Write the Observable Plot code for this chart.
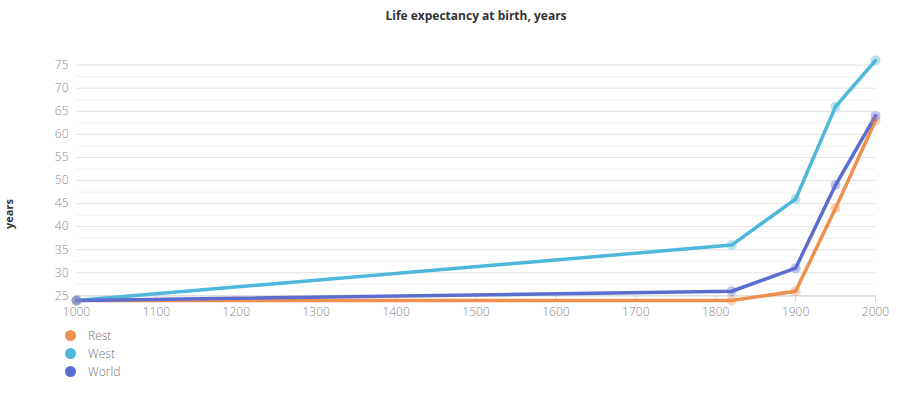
<!DOCTYPE html>
<html>
<head>
<meta charset="utf-8">
<script src="https://cdn.jsdelivr.net/npm/d3@7"></script>
<script src="https://cdn.jsdelivr.net/npm/@observablehq/plot@0.6"></script>
<style>
  body { margin: 0; background: #fff; font-family: "Open Sans", sans-serif; }
  #wrap { position: relative; width: 905px; height: 398px; }
  #title { position: absolute; top: 7px; left: 76px; width: 800px; text-align: center; font-size: 12px; font-weight: bold; color: #333; }
  #chart { position: absolute; top: 30px; left: 0; }
  #ylab { position: absolute; top: 214px; left: 8px; transform: translate(-50%, -50%) rotate(-90deg); transform-origin: center; font-size: 11px; font-weight: bold; color: #333; }
  #legend { position: absolute; left: 65px; top: 326px; font-size: 12px; font-weight: 300; color: #777; }
  .li { display: flex; align-items: center; height: 18px; }
  .dot { width: 11px; height: 11px; border-radius: 50%; margin-right: 12px; }
  #chart svg g[aria-label="y-axis tick label"], #chart svg g[aria-label="x-axis tick label"] { font-weight: 300; }
</style>
</head>
<body>
<div id="wrap">
  <div id="title">Life expectancy at birth, years</div>
  <div id="ylab">years</div>
  <div id="chart"></div>
  <div id="legend"></div>
</div>
<script>
const years = [1000, 1820, 1900, 1950, 2000];
const rest  = [24, 24, 26, 44, 63];
const west  = [24, 36, 46, 66, 76];
const world = [24, 26, 31, 49, 64];
const seriesNames = ["Rest", "West", "World"];
const seriesColors = ["#ee904f", "#4fb8da", "#5c6ccf"];
const yTicks = [25, 30, 35, 40, 45, 50, 55, 60, 65, 70, 75];
const yMinor = [27.5, 32.5, 37.5, 42.5, 47.5, 52.5, 57.5, 62.5, 67.5, 72.5];
const xTicks = [1000, 1100, 1200, 1300, 1400, 1500, 1600, 1700, 1800, 1900, 2000];

const seriesValues = [rest, west, world];
const data = [];
seriesNames.forEach((name, i) => {
  years.forEach((yr, j) => data.push({series: name, year: yr, value: seriesValues[i][j]}));
});

const chart = Plot.plot({
  width: 905,
  height: 300,
  marginLeft: 76,
  marginRight: 30,
  marginTop: 30,
  marginBottom: 30,
  style: {fontFamily: "Open Sans, sans-serif", background: "transparent"},
  x: {domain: [1000, 2000]},
  y: {domain: [24, 76]},
  color: {domain: seriesNames, range: seriesColors},
  marks: [
    Plot.ruleY(yMinor, {stroke: "#f2f2f2", strokeWidth: 1}),
    Plot.ruleY(yTicks, {stroke: "#e2e2e2", strokeWidth: 1}),
    Plot.ruleY([25], {stroke: "#d6d6d6", strokeWidth: 1}),
    Plot.ruleX(xTicks, {y1: 25, y2: 23.7, stroke: "#d0d0d0"}),
    Plot.axisY({ticks: yTicks, tickSize: 0, tickPadding: 8, fontSize: 12, fill: "#888", label: null}),
    Plot.axisX({ticks: xTicks, tickSize: 0, tickPadding: 7, fontSize: 12, fill: "#888", tickFormat: d => String(d), label: null}),
    Plot.line(data, {x: "year", y: "value", z: "series", stroke: "series", strokeWidth: 3.5, strokeLinejoin: "round", strokeLinecap: "round"}),
    Plot.dot(data, {x: "year", y: "value", fill: "series", r: 5, fillOpacity: 0.4, stroke: "none"})
  ]
});
chart.querySelectorAll('g[aria-label$="axis tick label"]').forEach(g => g.setAttribute("font-weight", "300"));
document.getElementById("chart").appendChild(chart);

const legend = document.getElementById("legend");
seriesNames.forEach((name, i) => {
  const row = document.createElement("div");
  row.className = "li";
  const dot = document.createElement("span");
  dot.className = "dot";
  dot.style.background = seriesColors[i];
  const lab = document.createElement("span");
  lab.textContent = name;
  row.appendChild(dot);
  row.appendChild(lab);
  legend.appendChild(row);
});
</script>
</body>
</html>
